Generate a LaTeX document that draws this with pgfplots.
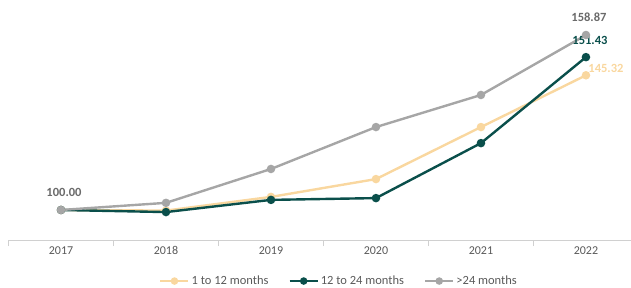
\documentclass[border=0pt]{standalone}
\usepackage{fontspec}
\setmainfont{Carlito}
\usepackage{pgfplots}
\pgfplotsset{compat=1.18}
\definecolor{cpeach}{HTML}{F9D79F}
\definecolor{cteal}{HTML}{0A4F4B}
\definecolor{cgrey}{HTML}{A6A6A6}
\definecolor{ctxt}{HTML}{595959}
\definecolor{caxis}{HTML}{D0D0D0}
\begin{document}
\begin{tikzpicture}
\path[use as bounding box] (-8.5pt,-47pt) rectangle (622.5pt,240pt);
\begin{axis}[
  at={(0,0)}, anchor=south west,
  scale only axis, width=622.5pt, height=240pt,
  xmin=-0.5, xmax=5.429, ymin=89.9, ymax=170.65,
  axis x line*=bottom, axis y line=none,
  x axis line style={draw=caxis, line width=0.8pt},
  xtick={0,1,2,3,4,5},
  xticklabels={2017,2018,2019,2020,2021,2022},
  major tick length=0pt,
  extra x ticks={-0.5,0.5,1.5,2.5,3.5,4.5},
  extra x tick labels={},
  extra x tick style={major tick length=6pt, tick align=outside, tick style={draw=caxis, line width=0.8pt}},
  tick label style={font=\fontsize{12}{14}\selectfont, text=ctxt},
  xticklabel style={yshift=-3pt},
  clip=false,
  legend style={at={(0.531,-0.171)}, anchor=center, draw=none, fill=none,
    font=\fontsize{12.5}{14}\selectfont, text=ctxt, legend columns=3,
    inner sep=0pt,
    /tikz/every even column/.append style={column sep=18pt}},
  legend image code/.code={
    \draw[#1, mark=none] (0cm,0cm) -- (28pt,0cm);
    \draw[#1, only marks, mark size=2.5pt] plot coordinates {(14pt,0cm)};
  },
  every axis plot/.append style={line width=2.4pt, mark=*, mark size=3pt},
  nodes near coords, point meta=explicit symbolic,
  every node near coord/.append style={font=\bfseries\fontsize{12.5}{14}\selectfont, anchor=center},
]
\addplot[color=cpeach, mark options={fill=cpeach},
  every node near coord/.append style={text=cpeach, xshift=20pt, yshift=7pt}]
  coordinates {(0,100)[] (1,99.8)[] (2,104.4)[] (3,110.4)[] (4,127.9)[] (5,145.32)[145.32]};
\addlegendentry{1 to 12 months}
\addplot[color=cteal, mark options={fill=cteal},
  every node near coord/.append style={text=cteal, xshift=4pt, yshift=17pt}]
  coordinates {(0,100)[] (1,99.3)[] (2,103.4)[] (3,104.0)[] (4,122.5)[] (5,151.43)[151.43]};
\addlegendentry{12 to 24 months}
\addplot[color=cgrey, mark options={fill=cgrey},
  every node near coord/.append style={text=ctxt!90, xshift=3pt, yshift=18pt}]
  coordinates {(0,100)[100.00] (1,102.4)[] (2,113.8)[] (3,127.9)[] (4,138.7)[] (5,158.87)[158.87]};
\addlegendentry{>24 months}
\end{axis}
\end{tikzpicture}
\end{document}
